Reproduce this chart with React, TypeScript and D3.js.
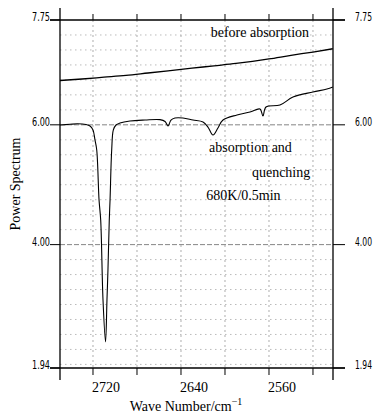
import React from "react";
import * as d3 from "d3";

// Data
const beforeWave = [2750, 2730, 2710, 2690, 2670, 2650, 2630, 2610, 2590, 2575, 2560, 2540, 2520, 2502];
const beforeVal = [6.74, 6.765, 6.795, 6.825, 6.865, 6.905, 6.945, 6.985, 7.025, 7.06, 7.1, 7.16, 7.215, 7.27];

const afterWave = [2750, 2741, 2734, 2726.4, 2722.7, 2720, 2718.2, 2716.6, 2714.5, 2713, 2710.9, 2708.6, 2707.3, 2706.4, 2705.2, 2704.5, 2703, 2701.5, 2699.1, 2695.5, 2686.4, 2672.7, 2659.1, 2654.5, 2651.8, 2649.1, 2645.5, 2638.2, 2629.1, 2620, 2615.5, 2610.9, 2606.4, 2601.8, 2589.1, 2577.3, 2568.2, 2565.5, 2562.7, 2550, 2538.2, 2520, 2507.3, 2502];
const afterVal = [5.997, 6.009, 6.017, 6.005, 5.98, 5.914, 5.747, 5.58, 4.745, 4.41, 3.075, 2.374, 3.075, 3.576, 4.411, 4.745, 5.58, 5.914, 5.997, 6.03, 6.064, 6.08, 6.086, 6.056, 5.98, 6.08, 6.114, 6.114, 6.08, 6.047, 5.963, 5.83, 5.947, 6.08, 6.164, 6.214, 6.264, 6.147, 6.298, 6.331, 6.464, 6.548, 6.598, 6.631];

const yTicks = [7.75, 6.0, 4.0, 1.94];
const yTickLabels = ["7.75", "6.00", "4.00", "1.94"];
const xTickLabels = [2720, 2640, 2560];
const xGrid = [2720, 2680, 2640, 2600, 2560, 2520];
const yGrid = d3.range(2.0, 7.75, 0.25);
const yMajorGrid = [6.0, 4.0];

const labels = [
  { text: "before absorption", w: 2613, v: 7.47 },
  { text: "absorption and", w: 2614.5, v: 5.55 },
  { text: "quenching", w: 2575.5, v: 5.13 },
  { text: "680K/0.5min", w: 2617, v: 4.75 },
];

export default function App() {
  const W = 379, H = 415;
  const x = d3.scaleLinear().domain([2750, 2501.8]).range([60, 333]);
  const y = d3.scaleLinear().domain([1.94, 7.75]).range([368, 20]);
  const L = 60, R = 333, T = 20, B = 368;

  const line = d3.line<[number, number]>().x((d) => x(d[0])).y((d) => y(d[1])).curve(d3.curveMonotoneX);
  const beforeData = beforeWave.map((w, i) => [w, beforeVal[i]] as [number, number]);
  const afterData = afterWave.map((w, i) => [w, afterVal[i]] as [number, number]);
  const afterLine = d3.line<[number, number]>().x((d) => x(d[0])).y((d) => y(d[1])).curve(d3.curveCatmullRom.alpha(0.5));

  const serif = "'Liberation Serif', 'Times New Roman', serif";
  const narrow = "'Liberation Sans Narrow', 'DejaVu Sans Condensed', sans-serif";
  const isMajor = (v: number) => yMajorGrid.some((m) => Math.abs(m - v) < 1e-6);

  return (
    <svg width={W} height={H} style={{ position: "absolute", left: 0, top: 0, background: "#fff" }}>
      {/* grid */}
      {yGrid.map((v, i) => (
        <line key={"hg" + i} x1={L} x2={R} y1={y(v)} y2={y(v)}
          stroke={isMajor(v) ? "#666" : "#aaa"}
          strokeWidth={0.8} strokeDasharray={isMajor(v) ? "5,2" : "1.5,3.5"} />
      ))}
      {xGrid.map((w) => (
        <line key={"vg" + w} x1={x(w)} x2={x(w)} y1={T} y2={B} stroke="#999" strokeWidth={0.8} strokeDasharray="2,3" />
      ))}

      {/* axes frame */}
      <line x1={L} x2={L} y1={8} y2={380} stroke="#000" strokeWidth={1.3} />
      <line x1={R} x2={R} y1={8} y2={380} stroke="#000" strokeWidth={1.3} />
      <line x1={50} x2={345} y1={T} y2={T} stroke="#000" strokeWidth={1.5} />
      <line x1={50} x2={345} y1={B} y2={B} stroke="#000" strokeWidth={1.5} />

      {/* y ticks */}
      {yTicks.map((v, i) => (
        <g key={"yt" + i}>
          <line x1={50} x2={L} y1={y(v)} y2={y(v)} stroke="#000" strokeWidth={1} />
          <line x1={R} x2={345} y1={y(v)} y2={y(v)} stroke="#000" strokeWidth={1} />
          <text x={50} y={y(v) + 1} textAnchor="end" fontFamily={narrow} fontSize={12} textLength={18} lengthAdjust="spacingAndGlyphs">{yTickLabels[i]}</text>
          <text x={355} y={y(v) + 1} textAnchor="start" fontFamily={narrow} fontSize={12} textLength={17} lengthAdjust="spacingAndGlyphs">{yTickLabels[i]}</text>
        </g>
      ))}

      {/* x ticks */}
      {xGrid.map((w) => (
        <g key={"xt" + w}>
          <line x1={x(w)} x2={x(w)} y1={B} y2={B + 7} stroke="#000" strokeWidth={1} />
          <line x1={x(w)} x2={x(w)} y1={T - 6} y2={T} stroke="#000" strokeWidth={1} />
        </g>
      ))}
      {xTickLabels.map((w) => (
        <text key={"xl" + w} x={x(w) - 1} y={392} fontFamily={serif} fontSize={14}>{w}</text>
      ))}

      {/* curves */}
      <path d={line(beforeData) || ""} fill="none" stroke="#000" strokeWidth={1.3} />
      <path d={afterLine(afterData) || ""} fill="none" stroke="#000" strokeWidth={1.1} />

      {/* annotations */}
      {labels.map((l) => (
        <text key={l.text} x={x(l.w)} y={y(l.v)} fontFamily={serif} fontSize={14}>{l.text}</text>
      ))}

      {/* axis titles */}
      <text x={186} y={411} textAnchor="middle" fontFamily={serif} fontSize={14}>
        Wave Number/cm<tspan dy={-6} fontSize={10}>−1</tspan>
      </text>
      <text transform="translate(20,184) rotate(-90)" textAnchor="middle" fontFamily={serif} fontSize={14}>Power Spectrum</text>
    </svg>
  );
}
